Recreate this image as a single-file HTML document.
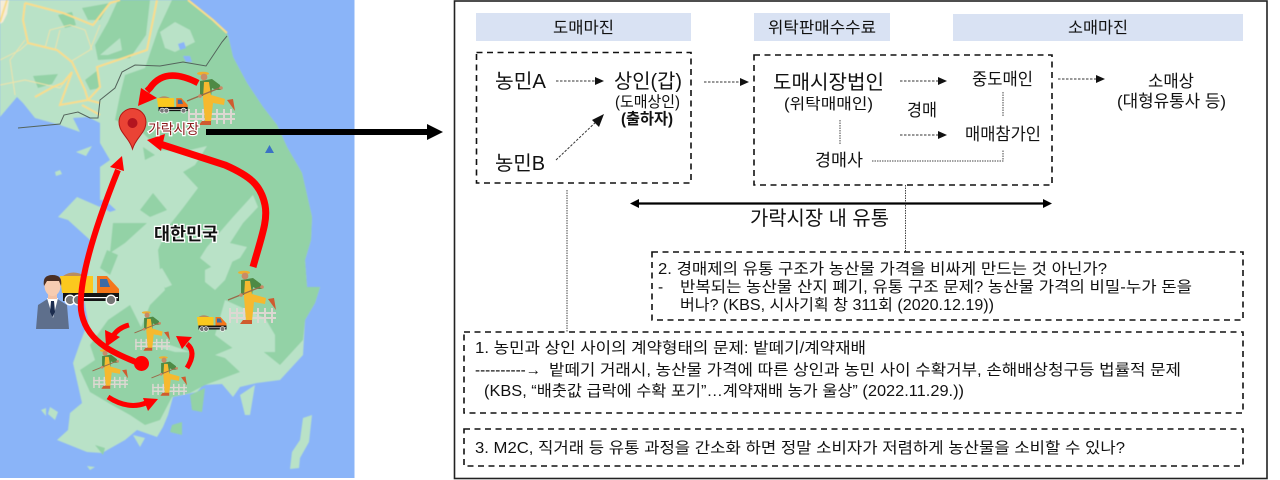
<!DOCTYPE html>
<html lang="ko"><head><meta charset="utf-8"><title>가락시장 유통</title>
<style>
html,body{margin:0;padding:0;background:#fff;width:1280px;height:480px;overflow:hidden}
svg{display:block}
text{font-family:"Liberation Sans","Noto Sans CJK KR",sans-serif;fill:#111}
</style></head><body>
<svg xmlns="http://www.w3.org/2000/svg" width="1280" height="480" viewBox="0 0 1280 480">
<defs>
<filter id="soft" x="-2%" y="-2%" width="104%" height="104%"><feGaussianBlur stdDeviation="0.6"/></filter>
<clipPath id="mapclip"><rect x="0" y="0" width="354.500" height="478"/></clipPath>
<g id="farmer">
  <g stroke="#ddd8d2" stroke-width="2" fill="none"><path d="M3 44H50M3 49H50"/><path d="M4 39V54M11 39V54M18 39V54M25 39V54M32 39V54M39 39V54M46 39V54"/></g>
  <path d="M15 11L27 9L35 15L36 20L31 20L27 18L26 26H15Z" fill="#4e8a45"/>
  <path d="M19 12L24 12L26 25L40 29L39 35L28 33L26 52H20L18 28Z" fill="#f6b92f"/>
  <path d="M2 31L37 17" stroke="#9a6a4a" stroke-width="1.300"/>
  <ellipse cx="18" cy="3.500" rx="6" ry="1.800" fill="#eeb02f"/><circle cx="19" cy="7" r="3.400" fill="#c98b66"/>
  <path d="M17 51H26V55H14Z" fill="#cf5b2f"/><path d="M42 30L48 29L50 41Z" fill="#cf5b2f"/>
  <circle cx="36" cy="18" r="1.800" fill="#c98b66"/><circle cx="15" cy="26" r="1.800" fill="#c98b66"/>
</g>
<g id="truck">
  <path d="M3 6Q13 -1 25 6Z" fill="#b98d5f"/>
  <path d="M0 6H33V23H2Z" fill="#fbc81e"/>
  <path d="M37 6H47L59 19V27H37Z" fill="#f5761a"/><path d="M40 9H47L50 17H40Z" fill="#3c6aa5"/>
  <rect x="3" y="23" width="56" height="8" fill="#141414"/>
  <rect x="20" y="27" width="38" height="1.200" fill="#fff"/>
  <g fill="#777" stroke="#fff" stroke-width="1.300"><circle cx="10" cy="30" r="4.800"/><circle cx="18" cy="30" r="4.800"/><circle cx="51" cy="30" r="4.800"/></g>
</g>
</defs>

<rect x="0" y="0" width="354.500" height="478" fill="#8ab4f8"/>
<g clip-path="url(#mapclip)"><g filter="url(#soft)">
<!-- land -->
<path fill="#b9e2c7" d="M0 0H188L213 20L228 35L233 57L247 83L263 107L277 125L287 147L302 173L312 217L311 240L305 260L307 287L320 287L315 303L305 320L303 355L280 380L257 383L240 387L233 397L222 384L203 385L197 392L173 397L168 415L163 427L157 437L137 430L125 440L102 453L87 452L57 440L68 430L70 413L82 403L73 363L80 343L88 322L84 300L88 273L90 240L68 220L58 217L77 197L100 207L100 167L110 160L100 143L100 123L88 117L73 118L80 132L60 125L35 118L23 103L17 97L0 117Z"/>
<path fill="#8ab4f8" d="M0 117L17 115L22 122L0 126Z"/>
<path fill="#f5ecd8" d="M0 0H9L7 14L3 22L0 24Z"/>
<!-- dark patches -->
<path fill="#93d2a6" d="M188 0L213 20L228 35L233 57L247 83L263 107L277 125L287 147L302 173L312 217L311 240L305 260L307 287L320 287L315 303L305 320L303 340L280 365L255 345L232 348L215 355L190 352L170 345L148 345L140 330L150 305L165 290L160 270L158 250L168 227L183 208L198 188L183 172L200 157L185 152L160 150L140 130L115 120L120 95L125 75L145 68L158 30L172 0Z"/>
<path fill="#93d2a6" d="M118 0H150L146 35L130 58L98 60L95 45L108 22Z"/>
<path fill="#93d2a6" d="M143 147L155 155L145 160Z"/>
<path fill="#93d2a6" d="M140 210L153 193L167 210L150 217Z"/><path fill="#93d2a6" d="M113 223L147 223L125 243L110 253Z"/>
<path fill="#93d2a6" d="M107 250L118 255L110 275L100 268Z"/>
<path fill="#93d2a6" d="M108 320L130 305L150 345L175 352L205 352L225 358L240 372L205 385L190 393L172 397L160 420L145 425L130 415L112 405L90 392L80 370L95 360L90 345Z"/>
<path fill="#93d2a6" d="M190 395L205 388L202 412L192 410Z"/><path fill="#93d2a6" d="M172 425L182 422L182 435L170 432Z"/>
<path fill="#93d2a6" d="M95 445L105 448L103 455Z"/>
<path fill="#93d2a6" d="M58 15L72 12L76 25L65 28Z"/><path fill="#93d2a6" d="M33 76L58 74L52 84L38 88Z"/>
<path fill="#93d2a6" d="M82 8L110 3L100 20L88 20Z"/><path fill="#93d2a6" d="M85 80L98 70L100 88L90 90Z"/>
<!-- pale patches on dark -->
<path fill="#b9e2c7" d="M100 55L120 38L122 50L108 55Z"/>
<path fill="#b9e2c7" d="M160 32L175 22L190 30L195 42L175 52L165 48Z"/>
<path fill="#b9e2c7" d="M207 247L233 217L253 195L258 207L243 223L230 243L247 247L240 258L215 270L200 258Z"/>
<path fill="#b9e2c7" d="M205 270L235 255L225 280L215 290L205 282Z"/>
<path fill="#b9e2c7" d="M155 272L162 268L172 285L165 288Z"/>
<path fill="#b9e2c7" d="M225 300L265 318L275 335L275 352L238 352L215 335Z"/>
<path fill="#b9e2c7" d="M190 150L207 146L195 165L183 172Z"/>
<!-- west details -->
<path fill="#8ab4f8" d="M72 148L83 150L90 158L80 160Z"/><path fill="#8ab4f8" d="M90 200L105 200L116 210L110 212Z"/>
<path fill="#b9e2c7" d="M76 152L92 146L86 156Z"/>
<path fill="#b9e2c7" d="M55 172L60 170L62 174L56 176Z"/>
<!-- islands south -->
<path fill="#b9e2c7" d="M240 395L255 385L250 415L245 415Z"/>
<path fill="#b9e2c7" d="M303 418L312 415L309 442L300 458L299 468L290 469L292 452L300 440Z"/>
<path fill="#b9e2c7" d="M50 407L58 412L55 420L48 414Z"/><path fill="#b9e2c7" d="M41 410L46 408L46 416Z"/>
<path fill="#b9e2c7" d="M133 435L145 438L140 447Z"/>
<path fill="#b9e2c7" d="M87 466L95 467L90 470Z"/>
<path fill="#8ab4f8" d="M178 44L184 42L186 48L180 50Z"/><path fill="#8ab4f8" d="M183 56L190 56L192 62L186 62Z"/>
<!-- roads -->
<g fill="none" stroke="#f0e3a8" stroke-width="0.900">
<path d="M0 60L20 50L28 43M45 48L50 30L70 25L85 30L92 50M0 85L25 80L60 88L72 72M25 40L10 60L15 95M55 50L60 30M70 62L90 50L100 25"/>
</g>
<g fill="none" stroke="#f9dd8b" stroke-width="2">
<path d="M0 22L7 0M25 3L23 20L28 43L57 50L72 62L85 90L88 100L100 103M25 3L63 13L93 25L110 3L120 0M157 0L147 50L97 67L100 87L88 100M35 97L53 87L63 83L72 72L60 105L88 100M82 105L100 115M188 0L213 20L227 33"/>
</g>
</g></g>
<path d="M18 128L60 124L64 115L78 112L90 118L98 118L100 100L115 88L122 72L135 65L160 66L183 62L206 66L222 42L227 36" fill="none" stroke="#54645c" stroke-width="1"/>
<path d="M265 153L269.500 145L274 153Z" fill="#3b72c4"/>

<!-- icons -->
<use href="#farmer" x="185" y="70"/>
<use href="#truck" transform="translate(157,95) scale(.52)"/>
<use href="#truck" transform="translate(60,270)"/>
<use href="#truck" transform="translate(197,314) scale(.5)"/>
<use href="#farmer" x="226" y="269"/>
<use href="#farmer" transform="translate(133,310) scale(.74)"/>
<use href="#farmer" transform="translate(91,348) scale(.74)"/>
<use href="#farmer" transform="translate(150,355) scale(.74)"/>
<!-- person -->
<path d="M36 329L38 305L49 298H56L67 305L69 329Z" fill="#5e6f8c"/>
<path d="M47 298H58L53 318Z" fill="#fff"/><path d="M51 301H54L55 312L52.500 317L50 312Z" fill="#1b2c4e"/>
<rect x="48" y="290" width="9" height="9" fill="#f2c2a6"/>
<ellipse cx="52.500" cy="286" rx="8" ry="10" fill="#f6ccb1"/>
<path d="M44 286Q42 275 52.500 275Q63 275 61 286L59 281H47Z" fill="#4a2f24"/>

<!-- red arrows -->
<g fill="none" stroke="#ff0000" stroke-width="6.500">
<path d="M198 83Q165 66 150 88L147 91"/>
<path d="M253 267C262 235 268 220 265 205C261 185 250 176 225 165L160 144" stroke-width="7"/>
<path d="M141 364C110 352 85 340 81 310C79 285 90 240 118 170" stroke-width="6"/>
<path d="M129 325Q118 328 113 336" stroke-width="5"/>
<path d="M187 368Q197 352 187 344" stroke-width="5"/>
<path d="M108 397Q128 410 146 403" stroke-width="5"/>
</g>
<g fill="#ff0000">
<path d="M138 106L141 88L157 98Z"/>
<path d="M147 140L165 134L161 151Z"/>
<path d="M122 156L124 171L110 167Z"/>
<path d="M106 347L105 330L120 337Z"/>
<path d="M176 336L192 337L182 349Z"/>
<path d="M158 399L143 398L148 411Z"/>
<circle cx="141.500" cy="363.500" r="7.500"/>
</g>
<!-- pin -->
<path d="M132.500 149C129 137 119 133 119 122A13.500 13.500 0 0 1 146 122C146 133 136 137 132.500 149Z" fill="#ea4335" stroke="#b31412" stroke-width="1"/>
<circle cx="132.500" cy="123" r="5" fill="#b3141f"/>
<text x="148" y="134" font-size="14" textLength="51" lengthAdjust="spacingAndGlyphs" style="fill:#8a1a1a;paint-order:stroke;stroke:#fff;stroke-width:2.500px">가락시장</text>
<text x="154" y="240" font-size="17.500" font-weight="700" textLength="64" lengthAdjust="spacingAndGlyphs" style="fill:#111;paint-order:stroke;stroke:#fff;stroke-width:2.500px">대한민국</text>
<!-- big arrow -->
<rect x="206" y="129" width="222" height="6" fill="#000"/>
<path d="M427 124L443 132L427 140Z" fill="#000"/>

<!-- panel -->
<rect x="454.500" y="1" width="812.500" height="477.500" fill="#fff" stroke="#222" stroke-width="1.600"/>
<g fill="#d9e2f3"><rect x="476" y="13" width="215" height="28"/><rect x="754" y="13" width="136" height="28"/><rect x="953" y="14" width="290" height="27"/></g>
<g font-size="16">
<text x="553" y="33" textLength="61" lengthAdjust="spacingAndGlyphs">도매마진</text><text x="768" y="33" textLength="108" lengthAdjust="spacingAndGlyphs">위탁판매수수료</text><text x="1068" y="33" textLength="60" lengthAdjust="spacingAndGlyphs">소매마진</text>
</g>
<g fill="none" stroke="#111" stroke-width="1.600" stroke-dasharray="6 4.500">
<rect x="476.500" y="52.500" width="214.500" height="130.500"/>
<rect x="754" y="55" width="298" height="130"/>
<rect x="652" y="252" width="591" height="68"/>
<rect x="464" y="332" width="779" height="81"/>
<rect x="464" y="429" width="779" height="37"/>
</g>

<!-- thin dashed connectors -->
<g fill="none" stroke="#333" stroke-width="1" stroke-dasharray="2.500 1.500">
<path d="M556 81H596M704 82H741M900 81H940M900 135H940M1058 79H1097M556 160L598 120"/>
</g>
<g fill="#111">
<path d="M604 81L595 77V85Z"/><path d="M749 82L740 78V86Z"/><path d="M947 81L938 77V85Z"/><path d="M947 135L938 131V139Z"/><path d="M1105 79L1096 75V83Z"/><path d="M604 114L592 120L599 127Z"/>
</g>
<g fill="none" stroke="#444" stroke-width="1" stroke-dasharray="1.500 1">
<path d="M567 190V332M905.500 185V252M840 120V145M1003 92V117M872 161H1003V150"/>
</g>
<!-- double arrow -->
<path d="M638 203.500H1044" stroke="#000" stroke-width="2.200"/>
<path d="M630 203.500L639 199V208Z" fill="#000"/><path d="M1052 203.500L1043 199V208Z" fill="#000"/>

<!-- labels -->
<g font-size="20">
<text x="495" y="88" textLength="51" lengthAdjust="spacingAndGlyphs">농민A</text>
<text x="495" y="170" textLength="50" lengthAdjust="spacingAndGlyphs">농민B</text>
<text x="614" y="88" textLength="68" lengthAdjust="spacingAndGlyphs">상인(갑)</text>
<text x="773" y="89" textLength="111" lengthAdjust="spacingAndGlyphs">도매시장법인</text>
<text x="750" y="225" textLength="139" lengthAdjust="spacingAndGlyphs">가락시장 내 유통</text>
</g>
<g font-size="15.500">
<text x="615" y="107" textLength="65" lengthAdjust="spacingAndGlyphs">(도매상인)</text>
<text x="621" y="124" textLength="52" font-weight="700" lengthAdjust="spacingAndGlyphs">(출하자)</text>
<text x="784" y="109" textLength="89" lengthAdjust="spacingAndGlyphs">(위탁매매인)</text>
</g>
<g font-size="17">
<text x="815" y="166" textLength="48" lengthAdjust="spacingAndGlyphs">경매사</text>
<text x="907" y="116" textLength="30" lengthAdjust="spacingAndGlyphs">경매</text>
<text x="972" y="85" textLength="61" lengthAdjust="spacingAndGlyphs">중도매인</text>
<text x="965" y="140" textLength="76" lengthAdjust="spacingAndGlyphs">매매참가인</text>
<text x="1148" y="87" textLength="46" lengthAdjust="spacingAndGlyphs">소매상</text>
<text x="1117" y="107" textLength="109" lengthAdjust="spacingAndGlyphs">(대형유통사 등)</text>
</g>
<g font-size="15.500">
<text x="658" y="274" textLength="449" lengthAdjust="spacingAndGlyphs">2. 경매제의 유통 구조가 농산물 가격을 비싸게 만드는 것 아닌가?</text>
<text x="658" y="292">-</text>
<text x="680" y="292" textLength="512" lengthAdjust="spacingAndGlyphs">반복되는 농산물 산지 폐기, 유통 구조 문제? 농산물 가격의 비밀-누가 돈을</text>
<text x="680" y="310" textLength="314" lengthAdjust="spacingAndGlyphs">버나? (KBS, 시사기획 창 311회 (2020.12.19))</text>
<text x="475" y="353" textLength="391" lengthAdjust="spacingAndGlyphs">1. 농민과 상인 사이의 계약형태의 문제: 밭떼기/계약재배</text>
<text x="475" y="375" textLength="66" lengthAdjust="spacingAndGlyphs">----------→</text>
<text x="549" y="375" textLength="632" lengthAdjust="spacingAndGlyphs">밭떼기 거래시, 농산물 가격에 따른 상인과 농민 사이 수확거부, 손해배상청구등 법률적 문제</text>
<text x="484" y="396" textLength="480" lengthAdjust="spacingAndGlyphs">(KBS, “배춧값 급락에 수확 포기”…계약재배 농가 울상” (2022.11.29.))</text>
<text x="475" y="453" textLength="650" lengthAdjust="spacingAndGlyphs">3. M2C, 직거래 등 유통 과정을 간소화 하면 정말 소비자가 저렴하게 농산물을 소비할 수 있나?</text>
</g>
</svg>
</body></html>
